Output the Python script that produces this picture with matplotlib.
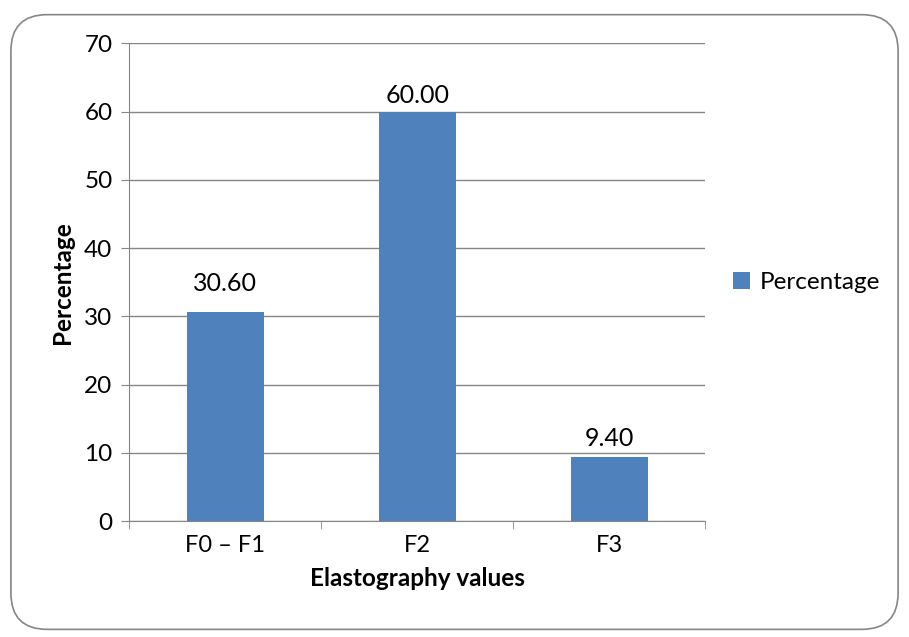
import matplotlib.pyplot as plt
from matplotlib.patches import FancyBboxPatch
import numpy as np

categories = ['F0 – F1', 'F2', 'F3']
percentage = [30.60, 60.00, 9.40]
value_labels = ['30.60', '60.00', '9.40']

# gap between bar top and label baseline (data units), as placed in the original
label_offsets = [3.1, 1.2, 1.6]

plt.rcParams['font.family'] = ['Lato', 'DejaVu Sans']

fig = plt.figure(figsize=(9.09, 6.37), dpi=100)
ax = fig.add_axes([0.142, 0.182, 0.634, 0.750])

# rounded chart border
border = FancyBboxPatch((0.012, 0.012), 0.976, 0.965, boxstyle='round,pad=0,rounding_size=0.04',
                        transform=fig.transFigure, facecolor='none', edgecolor='#868686',
                        linewidth=1.2, mutation_aspect=909 / 637)
fig.patches.append(border)

x = np.arange(len(categories))
bars = ax.bar(x, percentage, width=0.4, color='#4F81BD', label='Percentage', zorder=3)

for xi, v, lab, off in zip(x, percentage, value_labels, label_offsets):
    ax.text(xi, v + off, lab, ha='center', va='baseline', fontsize=18, color='black')

ax.set_xlim(-0.5, 2.5)
ax.set_ylim(0, 70)
ax.set_yticks(range(0, 71, 10))
ax.yaxis.grid(True, color='#868686', linewidth=1)
ax.set_axisbelow(True)

ax.set_xticks(x)
ax.set_xticklabels(categories, fontsize=17)
ax.tick_params(axis='x', length=0, pad=10)
ax.set_xticks([-0.5, 0.5, 1.5, 2.5], minor=True)
ax.tick_params(axis='x', which='minor', length=6, color='#868686')
ax.tick_params(axis='y', labelsize=17.5, length=6, color='#868686', pad=6)

for s in ['top', 'right']:
    ax.spines[s].set_visible(False)
for s in ['left', 'bottom']:
    ax.spines[s].set_color('#868686')

ax.set_xlabel('Elastography values', fontsize=17.5, fontweight='bold', labelpad=8)
ax.set_ylabel('Percentage', fontsize=17.5, fontweight='bold', labelpad=7)

ax.legend(loc='center left', bbox_to_anchor=(1.01, 0.5), frameon=False, fontsize=17.5,
          handlelength=0.7, handleheight=0.7, handletextpad=0.4)

fig.savefig('out.png', dpi=100)
